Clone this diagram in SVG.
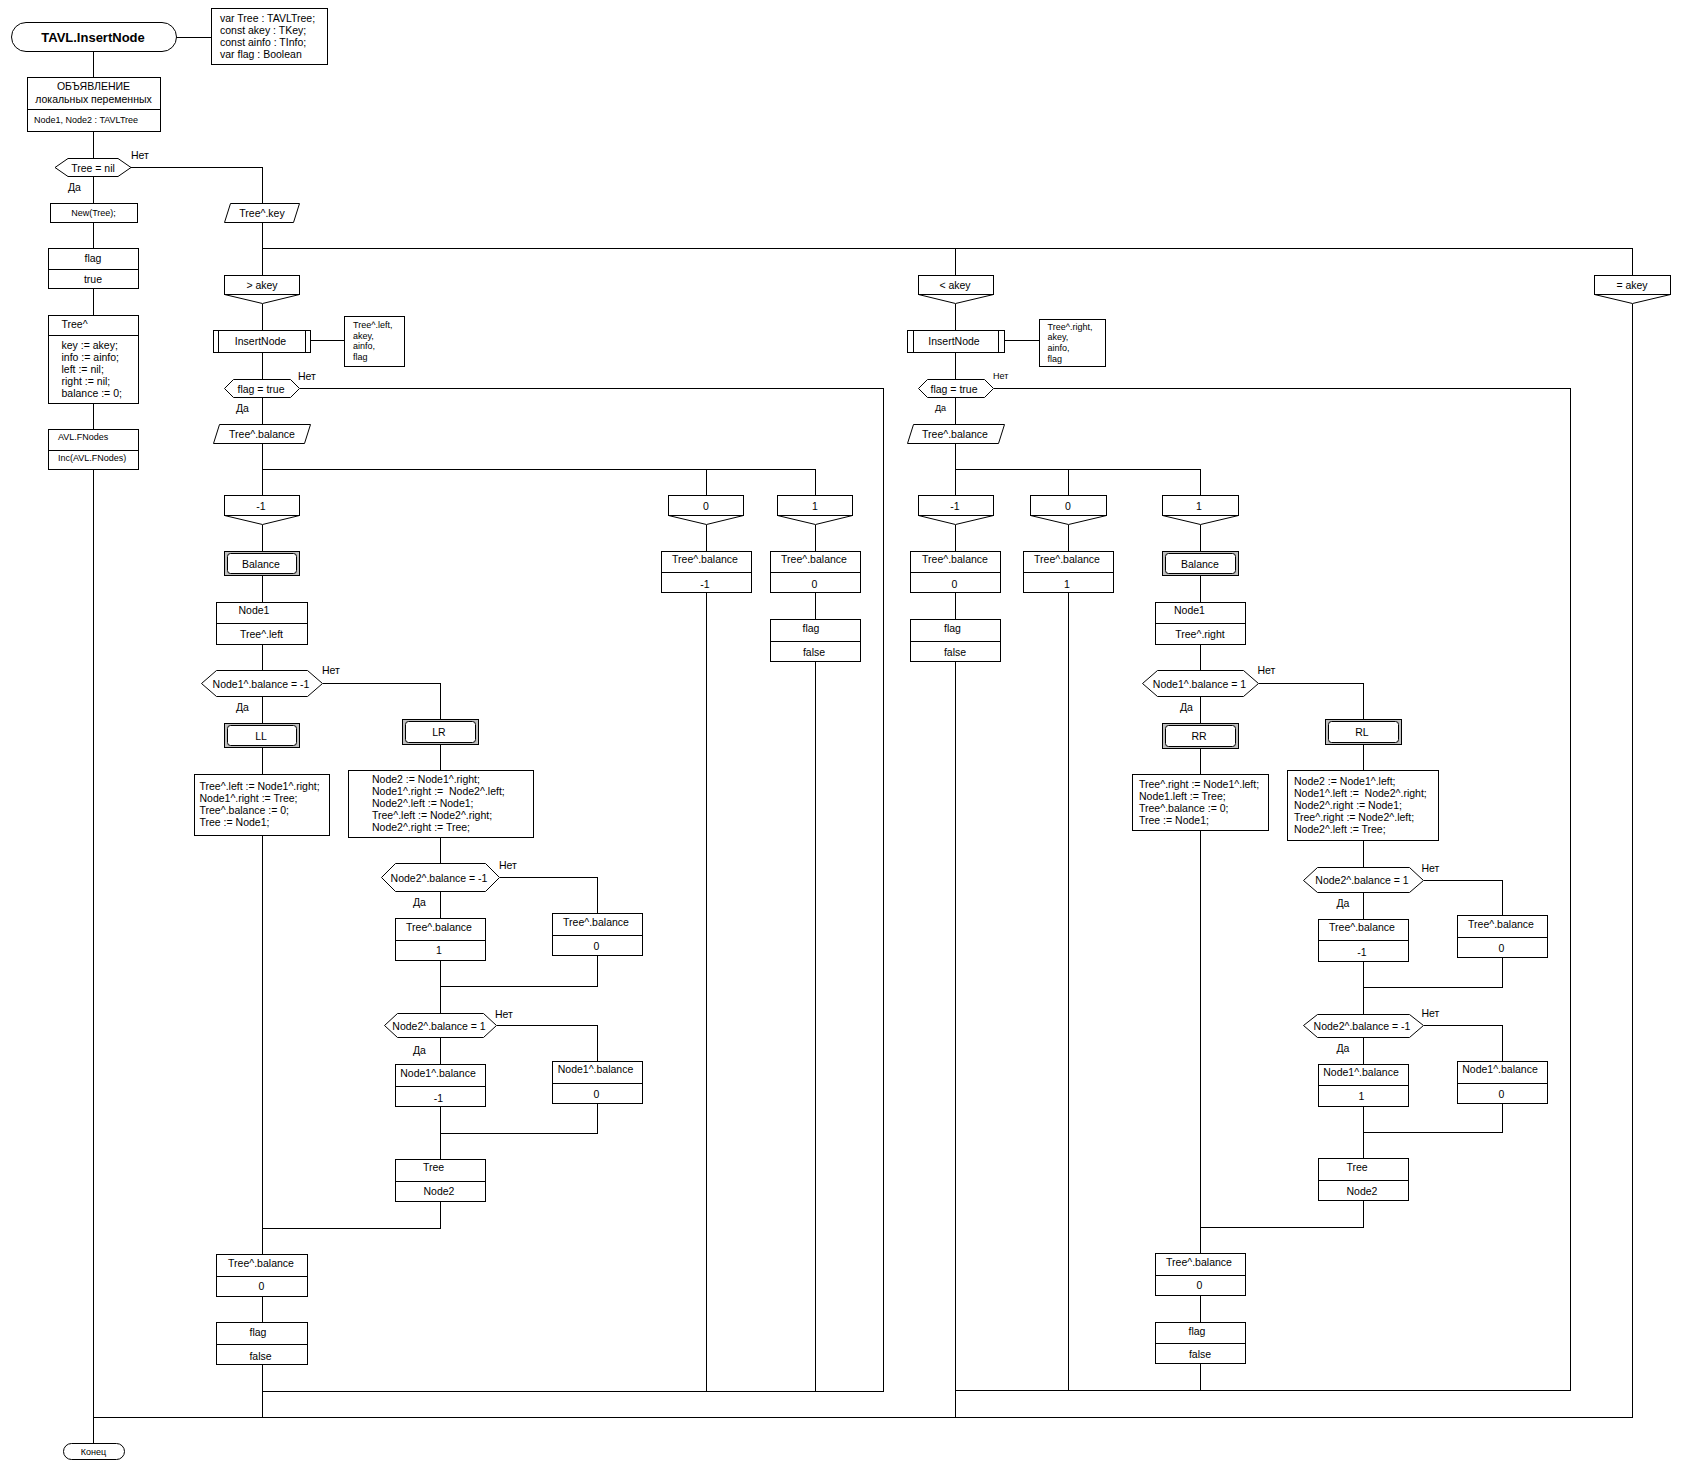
<svg xmlns="http://www.w3.org/2000/svg" width="1687" height="1470" viewBox="0 0 1687 1470">
<style>
.s{fill:#fff;stroke:#000;stroke-width:1}
.g{fill:#c0c0c0;stroke:#000;stroke-width:1}
.c{fill:none;stroke:#000;stroke-width:1}
text{font-family:"Liberation Sans",Arial,sans-serif;font-size:10.5px;fill:#000;dominant-baseline:central}
.m{text-anchor:middle}
.sm{font-size:9px}
.b{font-size:13px;font-weight:bold}
</style>
<rect width="1687" height="1470" fill="#fff"/>
<g id="connectors" class="c" shape-rendering="crispEdges">
<path d="M176 37.5H211.5"/>
<path d="M93.5 51V77.5M93.5 131.5V158.5M93.5 176.5V203.5M93.5 222.5V248.5M93.5 288.5V315.5M93.5 403.5V429.5M93.5 469.5V1443.5"/>
<path d="M131 167.5H262.5V203.5"/>
<path d="M262.5 222.5V275.5M262.5 248.5H1632.5V275.5M955.5 248.5V275.5"/>
<path d="M1632.5 303.5V1417.5H93.5"/>
<path d="M262.5 303.5V330.5M262.5 352.5V379.5M262.5 397.5V424.5M262.5 443.5V495.5M262.5 469.5H815.5V495.5M706.5 469.5V495.5"/>
<path d="M310.5 340.5H344.5"/>
<path d="M299.5 388.5H883.5V1391.5H262.5"/>
<path d="M262.5 524.5V551.5M262.5 575.5V602.5M262.5 644.5V670.5M262.5 696.5V723.5M262.5 747.5V774.5M262.5 835.5V1254.5M262.5 1296.5V1322.5M262.5 1364.5V1417.5"/>
<path d="M322.5 683.5H440.5V719.5M440.5 744.5V770.5M440.5 837.5V863.5M440.5 891.5V918.5M440.5 960.5V1013.5M440.5 1037.5V1064.5M440.5 1106.5V1159.5M440.5 1201.5V1228.5H262.5"/>
<path d="M499.5 877.5H597.5V913.5M597.5 955.5V986.5H440.5"/>
<path d="M496.5 1025.5H597.5V1061.5M597.5 1103.5V1133.5H440.5"/>
<path d="M706.5 524.5V551.5M706.5 592.5V1391.5"/>
<path d="M815.5 524.5V551.5M815.5 592.5V619.5M815.5 661.5V1391.5"/>
<path d="M955.5 303.5V330.5M955.5 352.5V379.5M955.5 397.5V424.5M955.5 443.5V495.5M955.5 469.5H1200.5V495.5M1068.5 469.5V495.5"/>
<path d="M1004.5 340.5H1039.5"/>
<path d="M993.5 388.5H1570.5V1390.5H955.5"/>
<path d="M955.5 524.5V551.5M955.5 592.5V619.5M955.5 661.5V1417.5"/>
<path d="M1068.5 524.5V551.5M1068.5 592.5V1390.5"/>
<path d="M1200.5 524.5V551.5M1200.5 575.5V602.5M1200.5 644.5V670.5M1200.5 696.5V723.5M1200.5 748.5V774.5M1200.5 830.5V1253.5M1200.5 1295.5V1322.5M1200.5 1363.5V1390.5"/>
<path d="M1258.5 683.5H1363.5V719.5M1363.5 744.5V770.5M1363.5 840.5V867.5M1363.5 892.5V919.5M1363.5 961.5V1014.5M1363.5 1037.5V1064.5M1363.5 1106.5V1158.5M1363.5 1200.5V1227.5H1200.5"/>
<path d="M1423.5 880.5H1502.5V915.5M1502.5 957.5V987.5H1363.5"/>
<path d="M1423.5 1025.5H1502.5V1061.5M1502.5 1103.5V1132.5H1363.5"/>
</g>

<g id="start"><rect class="s" x="11.5" y="22.5" width="165" height="29" rx="14.5"/><text class="m b" x="93" y="37">TAVL.InsertNode</text></g>
<g id="params-main"><rect class="s" x="211.5" y="8.5" width="116" height="56"/>
<text x="220" y="17.5">var Tree : TAVLTree;</text><text x="220" y="29.5">const akey : TKey;</text><text x="220" y="41.5">const ainfo : TInfo;</text><text x="220" y="53.5">var flag : Boolean</text></g>
<g id="decl"><rect class="s" x="27.5" y="77.5" width="133" height="54"/><path class="c" d="M27.5 109.5H160.5"/>
<text class="m" x="93.5" y="86">ОБЪЯВЛЕНИЕ</text><text class="m" x="93.5" y="98.5">локальных переменных</text><text class="sm" x="34" y="119.5">Node1, Node2 : TAVLTree</text></g>
<g id="if-nil"><polygon class="s" points="55,167.5 68,158.5 118,158.5 131,167.5 118,176.5 68,176.5"/><text class="m" x="93" y="167.5">Tree = nil</text>
<text x="131" y="155">Нет</text><text x="68" y="187">Да</text></g>
<g id="new"><rect class="s" x="50.5" y="203.5" width="87" height="19"/><text class="m sm" x="93.5" y="213">New(Tree);</text></g>
<g id="flag-true"><rect class="s" x="48.5" y="248.5" width="90" height="40"/><path class="c" d="M48.5 269.5H138.5"/><text class="m" x="93" y="257.5">flag</text><text class="m" x="93" y="279">true</text></g>
<g id="tree-init"><rect class="s" x="48.5" y="315.5" width="90" height="88"/><path class="c" d="M48.5 335.5H138.5"/>
<text x="61.5" y="323.5">Tree^</text><text x="61.5" y="345">key := akey;</text><text x="61.5" y="357">info := ainfo;</text><text x="61.5" y="369">left := nil;</text><text x="61.5" y="381">right := nil;</text><text x="61.5" y="393">balance := 0;</text></g>
<g id="fnodes"><rect class="s" x="48.5" y="429.5" width="90" height="40"/><path class="c" d="M48.5 450.5H138.5"/><text class="sm" x="58" y="437">AVL.FNodes</text><text class="sm" x="58" y="458">Inc(AVL.FNodes)</text></g>
<g id="end"><rect class="s" x="63.5" y="1443.5" width="61" height="16" rx="8"/><text class="m sm" x="93.5" y="1451.5">Конец</text></g>

<g id="key"><polygon class="s" points="230.5,203.5 299.5,203.5 293.5,222.5 224.5,222.5"/><text class="m" x="262" y="213">Tree^.key</text></g>
<g id="case-gt"><rect class="s" x="224.5" y="275.5" width="75" height="19"/><polyline class="c" points="224.5,294.5 262.5,303.5 299.5,294.5"/><text class="m" x="262" y="285">&gt; akey</text></g>
<g id="case-lt"><rect class="s" x="918.5" y="275.5" width="75" height="19"/><polyline class="c" points="918.5,294.5 955.5,303.5 993.5,294.5"/><text class="m" x="955" y="285">&lt; akey</text></g>
<g id="case-eq"><rect class="s" x="1594.5" y="275.5" width="76" height="19"/><polyline class="c" points="1594.5,294.5 1632.5,303.5 1670.5,294.5"/><text class="m" x="1632" y="285">= akey</text></g>

<g id="ins-left"><rect class="s" x="213.5" y="330.5" width="97" height="22"/><path class="c" d="M218.5 330.5V352.5M305.5 330.5V352.5"/><text class="m" x="260.5" y="341">InsertNode</text></g>
<g id="params-left"><rect class="s" x="344.5" y="316.5" width="60" height="50"/><text class="sm" x="353" y="325">Tree^.left,</text><text class="sm" x="353" y="335.5">akey,</text><text class="sm" x="353" y="346">ainfo,</text><text class="sm" x="353" y="357">flag</text></g>
<g id="flag-left"><polygon class="s" points="224.5,388.5 233.5,379.5 290.5,379.5 299.5,388.5 290.5,397.5 233.5,397.5"/><text class="m" x="261" y="388.5">flag = true</text><text x="298" y="375.5">Нет</text><text x="236" y="407.5">Да</text></g>
<g id="bal-left"><polygon class="s" points="219.5,424.5 310.5,424.5 304.5,443.5 213.5,443.5"/><text class="m" x="262" y="434">Tree^.balance</text></g>
<g id="cl-m1"><rect class="s" x="224.5" y="495.5" width="75" height="20"/><polyline class="c" points="224.5,515.5 262.5,524.5 299.5,515.5"/><text class="m" x="261" y="505.5">-1</text></g>
<g id="cl-0"><rect class="s" x="668.5" y="495.5" width="75" height="20"/><polyline class="c" points="668.5,515.5 706.5,524.5 743.5,515.5"/><text class="m" x="706" y="505.5">0</text></g>
<g id="cl-1"><rect class="s" x="777.5" y="495.5" width="75" height="20"/><polyline class="c" points="777.5,515.5 815.5,524.5 852.5,515.5"/><text class="m" x="815" y="505.5">1</text></g>
<g id="balance-left"><rect class="g" x="224.5" y="551.5" width="75" height="24"/><rect class="s" x="227.5" y="553.5" width="69" height="20" rx="3"/><text class="m" x="261" y="563.5">Balance</text></g>
<g id="node1-left"><rect class="s" x="216.5" y="602.5" width="91" height="42"/><path class="c" d="M216.5 623.5H307.5"/><text class="m" x="254" y="610">Node1</text><text class="m" x="261.5" y="634">Tree^.left</text></g>
<g id="if-n1-left"><polygon class="s" points="201.5,683.5 216.5,670.5 307.5,670.5 322.5,683.5 307.5,696.5 216.5,696.5"/><text class="m" x="261" y="683.5">Node1^.balance = -1</text><text x="322" y="670">Нет</text><text x="236" y="707">Да</text></g>
<g id="ll"><rect class="g" x="224.5" y="723.5" width="75" height="24"/><rect class="s" x="227.5" y="725.5" width="69" height="20" rx="3"/><text class="m" x="261" y="735.5">LL</text></g>
<g id="lr"><rect class="g" x="402.5" y="719.5" width="76" height="25"/><rect class="s" x="405.5" y="721.5" width="70" height="21" rx="3"/><text class="m" x="439" y="731.5">LR</text></g>
<g id="ll-code"><rect class="s" x="194.5" y="774.5" width="135" height="61"/><text x="199.5" y="786">Tree^.left := Node1^.right;</text><text x="199.5" y="798">Node1^.right := Tree;</text><text x="199.5" y="810">Tree^.balance := 0;</text><text x="199.5" y="822">Tree := Node1;</text></g>
<g id="lr-code"><rect class="s" x="348.5" y="770.5" width="185" height="67"/><text x="372" y="779">Node2 := Node1^.right;</text><text x="372" y="791" xml:space="preserve">Node1^.right :=  Node2^.left;</text><text x="372" y="803">Node2^.left := Node1;</text><text x="372" y="815">Tree^.left := Node2^.right;</text><text x="372" y="827">Node2^.right := Tree;</text></g>
<g id="if-n2a-left"><polygon class="s" points="381.5,877.5 395.5,863.5 485.5,863.5 499.5,877.5 485.5,891.5 395.5,891.5"/><text class="m" x="439" y="877.5">Node2^.balance = -1</text><text x="499" y="865">Нет</text><text x="413" y="902">Да</text></g>
<g id="tb1-left"><rect class="s" x="395.5" y="918.5" width="90" height="42"/><path class="c" d="M395.5 940.5H485.5"/><text class="m" x="439" y="926.5">Tree^.balance</text><text class="m" x="439" y="950">1</text></g>
<g id="tb0a-left"><rect class="s" x="552.5" y="913.5" width="90" height="42"/><path class="c" d="M552.5 935.5H642.5"/><text class="m" x="596" y="922">Tree^.balance</text><text class="m" x="596.5" y="945.5">0</text></g>
<g id="if-n2b-left"><polygon class="s" points="384.5,1025.5 397.5,1013.5 483.5,1013.5 496.5,1025.5 483.5,1037.5 397.5,1037.5"/><text class="m" x="439" y="1025.5">Node2^.balance = 1</text><text x="495" y="1013.5">Нет</text><text x="413" y="1050">Да</text></g>
<g id="n1b-left"><rect class="s" x="395.5" y="1064.5" width="90" height="42"/><path class="c" d="M395.5 1086.5H485.5"/><text class="m" x="438" y="1073">Node1^.balance</text><text class="m" x="438.5" y="1097.5">-1</text></g>
<g id="n1b0-left"><rect class="s" x="552.5" y="1061.5" width="90" height="42"/><path class="c" d="M552.5 1083.5H642.5"/><text class="m" x="595.5" y="1069">Node1^.balance</text><text class="m" x="596.5" y="1094">0</text></g>
<g id="tree-n2-left"><rect class="s" x="395.5" y="1159.5" width="90" height="42"/><path class="c" d="M395.5 1181.5H485.5"/><text class="m" x="433.5" y="1167">Tree</text><text class="m" x="439" y="1191">Node2</text></g>
<g id="tb0b-left"><rect class="s" x="216.5" y="1254.5" width="91" height="42"/><path class="c" d="M216.5 1276.5H307.5"/><text class="m" x="261" y="1262.5">Tree^.balance</text><text class="m" x="261.5" y="1286">0</text></g>
<g id="ff-left"><rect class="s" x="216.5" y="1322.5" width="91" height="42"/><path class="c" d="M216.5 1344.5H307.5"/><text class="m" x="258" y="1332">flag</text><text class="m" x="260.5" y="1355.5">false</text></g>
<g id="b0-left"><rect class="s" x="661.5" y="551.5" width="90" height="41"/><path class="c" d="M661.5 572.5H751.5"/><text class="m" x="705" y="559">Tree^.balance</text><text class="m" x="705" y="583.5">-1</text></g>
<g id="b1-left"><rect class="s" x="770.5" y="551.5" width="90" height="41"/><path class="c" d="M770.5 572.5H860.5"/><text class="m" x="814" y="559">Tree^.balance</text><text class="m" x="814.5" y="583.5">0</text></g>
<g id="b1f-left"><rect class="s" x="770.5" y="619.5" width="90" height="42"/><path class="c" d="M770.5 641.5H860.5"/><text class="m" x="811" y="627.5">flag</text><text class="m" x="814" y="651.5">false</text></g>

<g id="ins-right"><rect class="s" x="907.5" y="330.5" width="97" height="22"/><path class="c" d="M913.5 330.5V352.5M998.5 330.5V352.5"/><text class="m" x="954" y="341">InsertNode</text></g>
<g id="params-right"><rect class="s" x="1039.5" y="319.5" width="66" height="47"/><text class="sm" x="1047.5" y="327">Tree^.right,</text><text class="sm" x="1047.5" y="337">akey,</text><text class="sm" x="1047.5" y="348">ainfo,</text><text class="sm" x="1047.5" y="359">flag</text></g>
<g id="flag-right"><polygon class="s" points="918.5,388.5 927.5,379.5 984.5,379.5 993.5,388.5 984.5,397.5 927.5,397.5"/><text class="m" x="954" y="388.5">flag = true</text><text class="sm" x="993" y="376">Нет</text><text class="sm" x="935" y="408">Да</text></g>
<g id="bal-right"><polygon class="s" points="913.5,424.5 1004.5,424.5 998.5,443.5 907.5,443.5"/><text class="m" x="955" y="434">Tree^.balance</text></g>
<g id="cr-m1"><rect class="s" x="918.5" y="495.5" width="75" height="20"/><polyline class="c" points="918.5,515.5 955.5,524.5 993.5,515.5"/><text class="m" x="955" y="505.5">-1</text></g>
<g id="cr-0"><rect class="s" x="1030.5" y="495.5" width="76" height="20"/><polyline class="c" points="1030.5,515.5 1068.5,524.5 1106.5,515.5"/><text class="m" x="1068" y="505.5">0</text></g>
<g id="cr-1"><rect class="s" x="1162.5" y="495.5" width="76" height="20"/><polyline class="c" points="1162.5,515.5 1200.5,524.5 1238.5,515.5"/><text class="m" x="1199" y="505.5">1</text></g>
<g id="bm1-right"><rect class="s" x="910.5" y="551.5" width="90" height="41"/><path class="c" d="M910.5 572.5H1000.5"/><text class="m" x="955" y="559">Tree^.balance</text><text class="m" x="954.5" y="583.5">0</text></g>
<g id="bm1f-right"><rect class="s" x="910.5" y="619.5" width="90" height="42"/><path class="c" d="M910.5 641.5H1000.5"/><text class="m" x="952.5" y="627.5">flag</text><text class="m" x="955" y="651.5">false</text></g>
<g id="b0-right"><rect class="s" x="1023.5" y="551.5" width="90" height="41"/><path class="c" d="M1023.5 572.5H1113.5"/><text class="m" x="1067" y="559">Tree^.balance</text><text class="m" x="1067" y="583.5">1</text></g>
<g id="balance-right"><rect class="g" x="1162.5" y="551.5" width="76" height="24"/><rect class="s" x="1165.5" y="553.5" width="70" height="20" rx="3"/><text class="m" x="1200" y="563.5">Balance</text></g>
<g id="node1-right"><rect class="s" x="1155.5" y="602.5" width="90" height="42"/><path class="c" d="M1155.5 623.5H1245.5"/><text class="m" x="1189.5" y="610">Node1</text><text class="m" x="1200" y="634">Tree^.right</text></g>
<g id="if-n1-right"><polygon class="s" points="1142.5,683.5 1157.5,670.5 1243.5,670.5 1258.5,683.5 1243.5,696.5 1157.5,696.5"/><text class="m" x="1199.5" y="683.5">Node1^.balance = 1</text><text x="1257.5" y="670">Нет</text><text x="1180" y="707">Да</text></g>
<g id="rr"><rect class="g" x="1162.5" y="723.5" width="76" height="25"/><rect class="s" x="1165.5" y="725.5" width="70" height="21" rx="3"/><text class="m" x="1199" y="735.5">RR</text></g>
<g id="rl"><rect class="g" x="1325.5" y="719.5" width="76" height="25"/><rect class="s" x="1328.5" y="721.5" width="70" height="21" rx="3"/><text class="m" x="1362" y="731.5">RL</text></g>
<g id="rr-code"><rect class="s" x="1132.5" y="774.5" width="136" height="56"/><text x="1139" y="784">Tree^.right := Node1^.left;</text><text x="1139" y="796">Node1.left := Tree;</text><text x="1139" y="808">Tree^.balance := 0;</text><text x="1139" y="820">Tree := Node1;</text></g>
<g id="rl-code"><rect class="s" x="1287.5" y="770.5" width="151" height="70"/><text x="1294" y="781">Node2 := Node1^.left;</text><text x="1294" y="793" xml:space="preserve">Node1^.left :=  Node2^.right;</text><text x="1294" y="805">Node2^.right := Node1;</text><text x="1294" y="817">Tree^.right := Node2^.left;</text><text x="1294" y="829">Node2^.left := Tree;</text></g>
<g id="if-n2a-right"><polygon class="s" points="1303.5,880.5 1317.5,867.5 1409.5,867.5 1423.5,880.5 1409.5,892.5 1317.5,892.5"/><text class="m" x="1362" y="880">Node2^.balance = 1</text><text x="1421.5" y="867.5">Нет</text><text x="1336.5" y="903">Да</text></g>
<g id="tbm1-right"><rect class="s" x="1318.5" y="919.5" width="90" height="42"/><path class="c" d="M1318.5 940.5H1408.5"/><text class="m" x="1362" y="927">Tree^.balance</text><text class="m" x="1362" y="951.5">-1</text></g>
<g id="tb0a-right"><rect class="s" x="1457.5" y="915.5" width="90" height="42"/><path class="c" d="M1457.5 937.5H1547.5"/><text class="m" x="1501" y="924">Tree^.balance</text><text class="m" x="1501.5" y="948">0</text></g>
<g id="if-n2b-right"><polygon class="s" points="1303.5,1025.5 1317.5,1014.5 1409.5,1014.5 1423.5,1025.5 1409.5,1037.5 1317.5,1037.5"/><text class="m" x="1362" y="1025.5">Node2^.balance = -1</text><text x="1421.5" y="1013">Нет</text><text x="1336.5" y="1047.5">Да</text></g>
<g id="n1b-right"><rect class="s" x="1318.5" y="1064.5" width="90" height="42"/><path class="c" d="M1318.5 1085.5H1408.5"/><text class="m" x="1361" y="1072">Node1^.balance</text><text class="m" x="1361.5" y="1096">1</text></g>
<g id="n1b0-right"><rect class="s" x="1457.5" y="1061.5" width="90" height="42"/><path class="c" d="M1457.5 1083.5H1547.5"/><text class="m" x="1500" y="1069">Node1^.balance</text><text class="m" x="1501.5" y="1094">0</text></g>
<g id="tree-n2-right"><rect class="s" x="1318.5" y="1158.5" width="90" height="42"/><path class="c" d="M1318.5 1180.5H1408.5"/><text class="m" x="1357" y="1167">Tree</text><text class="m" x="1362" y="1191">Node2</text></g>
<g id="tb0b-right"><rect class="s" x="1155.5" y="1253.5" width="90" height="42"/><path class="c" d="M1155.5 1275.5H1245.5"/><text class="m" x="1199" y="1261.5">Tree^.balance</text><text class="m" x="1199.5" y="1285">0</text></g>
<g id="ff-right"><rect class="s" x="1155.5" y="1322.5" width="90" height="41"/><path class="c" d="M1155.5 1343.5H1245.5"/><text class="m" x="1197" y="1330.5">flag</text><text class="m" x="1200" y="1354">false</text></g>
</svg>
